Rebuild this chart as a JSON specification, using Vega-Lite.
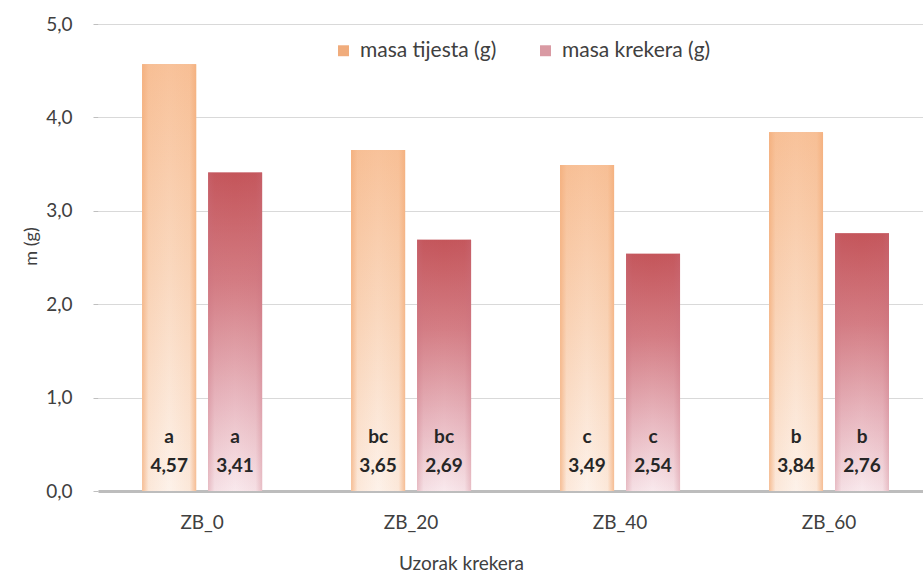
{
  "$schema": "https://vega.github.io/schema/vega-lite/v6.json",
  "width": 825,
  "height": 467,
  "autosize": "none",
  "padding": {"left": 98, "top": 24, "right": 0, "bottom": 85},
  "background": "#ffffff",
  "config": {
    "font": "Lato",
    "view": {"stroke": null},
    "locale": {"number": {"decimal": ",", "thousands": ".", "grouping": [3], "currency": ["", " €"]}}
  },
  "data": {
    "values": [
      {"sample": "ZB_0", "series": "masa tijesta (g)", "value": 4.57, "letter": "a"},
      {"sample": "ZB_0", "series": "masa krekera (g)", "value": 3.41, "letter": "a"},
      {"sample": "ZB_20", "series": "masa tijesta (g)", "value": 3.65, "letter": "bc"},
      {"sample": "ZB_20", "series": "masa krekera (g)", "value": 2.69, "letter": "bc"},
      {"sample": "ZB_40", "series": "masa tijesta (g)", "value": 3.49, "letter": "c"},
      {"sample": "ZB_40", "series": "masa krekera (g)", "value": 2.54, "letter": "c"},
      {"sample": "ZB_60", "series": "masa tijesta (g)", "value": 3.84, "letter": "b"},
      {"sample": "ZB_60", "series": "masa krekera (g)", "value": 2.76, "letter": "b"}
    ]
  },
  "encoding": {
    "x": {
      "field": "sample",
      "type": "nominal",
      "sort": ["ZB_0", "ZB_20", "ZB_40", "ZB_60"],
      "scale": {"paddingInner": 0.426, "paddingOuter": 0.187, "align": 0.565},
      "axis": {
        "title": "Uzorak krekera",
        "titleFontSize": 19,
        "titleFontWeight": "normal",
        "titleColor": "#404040",
        "titleX": 363,
        "titleY": 72,
        "titleBaseline": "middle",
        "labelAngle": 0,
        "labelFontSize": 19,
        "labelColor": "#404040",
        "labelPadding": 22,
        "ticks": false,
        "domain": true,
        "domainColor": "#bdbdbd",
        "domainWidth": 3,
        "grid": false
      }
    },
    "xOffset": {
      "field": "series",
      "type": "nominal",
      "sort": ["masa tijesta (g)", "masa krekera (g)"],
      "scale": {"paddingInner": 0.182, "paddingOuter": 0}
    },
    "y": {
      "field": "value",
      "type": "quantitative",
      "scale": {"domain": [0, 5]},
      "axis": {
        "title": "m (g)",
        "titleFontSize": 18,
        "titleFontWeight": "normal",
        "titleColor": "#404040",
        "titleX": -67,
        "titleY": 222,
        "titleBaseline": "middle",
        "values": [0, 1, 2, 3, 4, 5],
        "format": ".1f",
        "labelFontSize": 19,
        "labelColor": "#404040",
        "labelPadding": 21,
        "ticks": true,
        "tickSize": 5,
        "tickColor": "#bfbfbf",
        "domain": false,
        "grid": true,
        "gridColor": "#d9d9d9",
        "gridWidth": 1
      }
    }
  },
  "layer": [
    {
      "mark": {"type": "bar"},
      "encoding": {
        "color": {
          "field": "series",
          "type": "nominal",
          "sort": ["masa tijesta (g)", "masa krekera (g)"],
          "scale": {"domain": ["masa tijesta (g)", "masa krekera (g)"], "range": ["#f0ac7c", "#d99aa3"]},
          "legend": {
            "title": null,
            "orient": "none",
            "legendX": 235,
            "legendY": 16,
            "direction": "horizontal",
            "symbolType": "square",
            "symbolSize": 120,
            "symbolStrokeWidth": 0,
            "labelFontSize": 21,
            "labelColor": "#404040",
            "columnPadding": 38,
            "labelOffset": 6
          }
        }
      }
    },
    {
      "transform": [{"filter": "datum.series === 'masa tijesta (g)'"}],
      "mark": {
        "type": "bar",
        "color": {
          "gradient": "linear", "x1": 0, "y1": 0, "x2": 0, "y2": 1,
          "stops": [
            {"offset": 0, "color": "#f8c29a"},
            {"offset": 0.5, "color": "#fad9c0"},
            {"offset": 1, "color": "#fdf2ea"}
          ]
        }
      }
    },
    {
      "transform": [{"filter": "datum.series === 'masa tijesta (g)'"}],
      "mark": {
        "type": "bar",
        "color": {
          "gradient": "linear", "x1": 0, "y1": 0, "x2": 1, "y2": 0,
          "stops": [
            {"offset": 0, "color": "rgba(243,172,120,0.75)"},
            {"offset": 0.12, "color": "rgba(243,172,120,0.15)"},
            {"offset": 0.5, "color": "rgba(243,172,120,0)"},
            {"offset": 0.88, "color": "rgba(243,172,120,0.15)"},
            {"offset": 1, "color": "rgba(243,172,120,0.75)"}
          ]
        }
      }
    },
    {
      "transform": [{"filter": "datum.series === 'masa krekera (g)'"}],
      "mark": {
        "type": "bar",
        "color": {
          "gradient": "linear", "x1": 0, "y1": 0, "x2": 0, "y2": 1,
          "stops": [
            {"offset": 0, "color": "#c4555a"},
            {"offset": 0.35, "color": "#d47d84"},
            {"offset": 0.7, "color": "#e8b7bf"},
            {"offset": 1, "color": "#f9e9ed"}
          ]
        }
      }
    },
    {
      "transform": [{"filter": "datum.series === 'masa krekera (g)'"}],
      "mark": {
        "type": "bar",
        "color": {
          "gradient": "linear", "x1": 0, "y1": 0, "x2": 1, "y2": 0,
          "stops": [
            {"offset": 0, "color": "rgba(200,110,125,0.35)"},
            {"offset": 0.12, "color": "rgba(200,110,125,0.08)"},
            {"offset": 0.5, "color": "rgba(200,110,125,0)"},
            {"offset": 0.88, "color": "rgba(200,110,125,0.08)"},
            {"offset": 1, "color": "rgba(200,110,125,0.35)"}
          ]
        }
      }
    },
    {
      "mark": {"type": "text", "fontSize": 19, "fontWeight": "bold", "color": "#262626", "baseline": "middle", "dy": -54},
      "encoding": {
        "y": {"datum": 0},
        "text": {"field": "letter"}
      }
    },
    {
      "mark": {"type": "text", "fontSize": 19, "fontWeight": "bold", "color": "#262626", "baseline": "middle", "dy": -25},
      "encoding": {
        "y": {"datum": 0},
        "text": {"field": "value", "type": "quantitative", "format": ".2f"}
      }
    }
  ]
}
